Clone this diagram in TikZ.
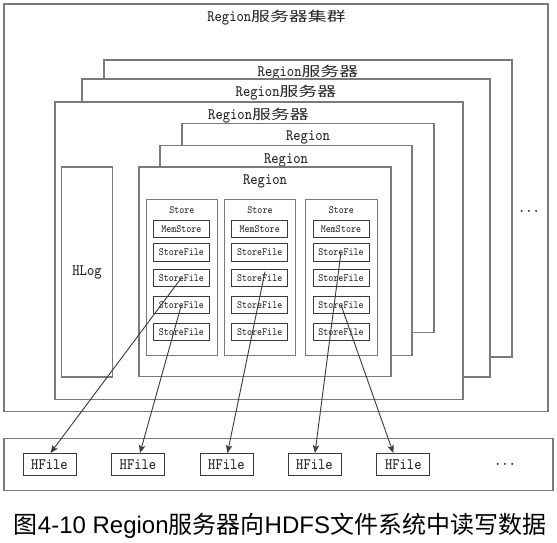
\documentclass[tikz,border=0pt]{standalone}
\usepackage{fontspec}
\setmainfont{Liberation Serif}
\newfontfamily\cjk[FakeStretch=1.4]{Noto Sans CJK SC}
\newfontfamily\cjkcap{Noto Sans CJK SC}
\newfontfamily\capsans{Liberation Sans}
\newfontfamily\monolat[FakeStretch=0.86]{lmmono8-regular.otf}
\usetikzlibrary{arrows.meta}
\definecolor{boxgray}{HTML}{7A7A7A}
\definecolor{darkline}{HTML}{3A3A3A}
\definecolor{txt}{HTML}{262626}
\newcommand\biglab{\monolat\fontsize{16}{18}\selectfont}
\newcommand\smalllab{\monolat\fontsize{11}{13}\selectfont}
\newcommand\cjtext[1]{{\cjk\fontsize{13.5}{16}\selectfont #1}}
\begin{document}
\begin{tikzpicture}[x=1pt,y=-1pt,
  bigbox/.style={draw=boxgray, line width=1.1pt, fill=white, inner sep=0pt},
  storebox/.style={draw=boxgray, line width=1pt, fill=white, inner sep=0pt, minimum width=71.5, minimum height=156.4},
  filebox/.style={draw=darkline, line width=0.9pt, fill=white, inner sep=0pt, minimum width=56, minimum height=17.5, font=\smalllab, text=txt},
  hfilebox/.style={draw=darkline, line width=0.9pt, fill=white, inner sep=0pt, minimum width=53, minimum height=21.5, font=\biglab, text=txt},
  lab/.style={inner sep=0pt, font=\biglab, text=txt},
  slab/.style={inner sep=0pt, font=\smalllab, text=txt},
  arrowline/.style={draw=darkline, line width=0.9pt, -{Stealth[length=8pt,width=6.5pt,inset=2pt]}}
]
\useasboundingbox[fill=white] (0,0) rectangle (557,542);

% cluster and servers
\node[bigbox, minimum width=544, minimum height=407.5] (cluster) at (276,207.75) {};
\node[lab] (clusterlab) at (276.5,18) {Region\cjtext{服务器集群}};
\node[bigbox, minimum width=408, minimum height=297] (srvA) at (308,208.5) {};
\node[lab] (srvAlab) at (308,72.5) {Region\cjtext{服务器}};
\node[bigbox, minimum width=408, minimum height=298] (srvB) at (286,228) {};
\node[lab] (srvBlab) at (286,92.8) {Region\cjtext{服务器}};
\node[bigbox, minimum width=408, minimum height=297.5] (srvC) at (259,250.75) {};
\node[lab] (srvClab) at (258.5,115.8) {Region\cjtext{服务器}};
\node[lab] (dots1) at (529,211) {...};

% HLog
\node[bigbox, minimum width=51, minimum height=210, font=\biglab, text=txt] (hlog) at (87,272) {HLog};

% regions
\node[bigbox, minimum width=252, minimum height=209.2] (regA) at (308,228.1) {};
\node[lab] (regAlab) at (308,137.5) {Region};
\node[bigbox, minimum width=252, minimum height=209.6] (regB) at (286,250.5) {};
\node[lab] (regBlab) at (286,160) {Region};
\node[bigbox, minimum width=252, minimum height=209.7] (regC) at (265,271.85) {};
\node[lab] (regClab) at (265,181.5) {Region};

% stores
\node[storebox] (st1) at (181.85,277.5) {};
\node[storebox] (st2) at (260,277.5) {};
\node[storebox] (st3) at (341.35,277.5) {};
\node[slab] (st1lab) at (181.85,210) {Store};
\node[slab] (st2lab) at (260,210) {Store};
\node[slab] (st3lab) at (341.35,210) {Store};

\node[filebox] (s1m) at (181.4,228.7) {MemStore};
\node[filebox] (s1f1) at (181.4,252.2) {StoreFile};
\node[filebox] (s1f2) at (181.4,277.9) {StoreFile};
\node[filebox] (s1f3) at (181.4,304.9) {StoreFile};
\node[filebox] (s1f4) at (181.4,331.7) {StoreFile};

\node[filebox] (s2m) at (259.7,228.7) {MemStore};
\node[filebox] (s2f1) at (259.7,252.2) {StoreFile};
\node[filebox] (s2f2) at (259.7,277.9) {StoreFile};
\node[filebox] (s2f3) at (259.7,304.9) {StoreFile};
\node[filebox] (s2f4) at (259.7,331.7) {StoreFile};

\node[filebox] (s3m) at (341,228.7) {MemStore};
\node[filebox] (s3f1) at (341,252.2) {StoreFile};
\node[filebox] (s3f2) at (341,277.9) {StoreFile};
\node[filebox] (s3f3) at (341,304.9) {StoreFile};
\node[filebox] (s3f4) at (341,331.7) {StoreFile};

% HDFS strip
\node[bigbox, minimum width=549, minimum height=52.4] (hdfs) at (278.5,464.5) {};
\node[hfilebox] (hf1) at (49.5,464.2) {HFile};
\node[hfilebox] (hf2) at (138,464.2) {HFile};
\node[hfilebox] (hf3) at (226.5,464.2) {HFile};
\node[hfilebox] (hf4) at (314.5,464.2) {HFile};
\node[hfilebox] (hf5) at (403.3,464.2) {HFile};
\node[lab] (dots2) at (505,464) {...};

% arrows
\draw[arrowline] (s1f2.center) -- ([xshift=1pt]hf1.north);
\draw[arrowline] (s1f3.center) -- ([xshift=2pt]hf2.north);
\draw[arrowline] ([xshift=5.3pt,yshift=6.2pt]s2f2.center) -- ([xshift=1pt]hf3.north);
\draw[arrowline] (s3f1.center) -- ([xshift=0.5pt]hf4.north);
\draw[arrowline] (s3f3.center) -- ([xshift=-10pt]hf5.north);

% caption
\node[inner sep=0pt, text=black, font=\capsans\fontsize{24}{28}\selectfont] (caption) at (280,526) {{\cjkcap 图}4-10 Region{\cjkcap 服务器向}HDFS{\cjkcap 文件系统中读写数据}};
\end{tikzpicture}
\end{document}
